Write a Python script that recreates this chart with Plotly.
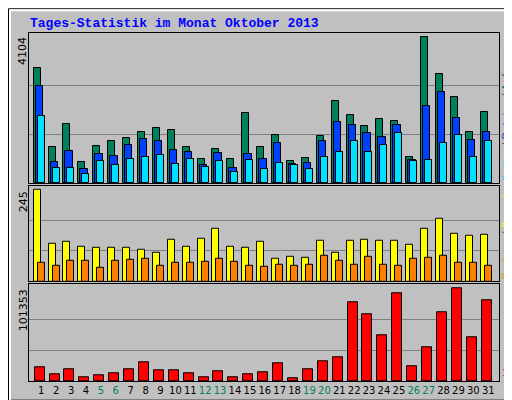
import plotly.graph_objects as go
from plotly.subplots import make_subplots

days = list(range(1, 32))
weekend = [5, 6, 12, 13, 19, 20, 26, 27]

anfragen = [3240, 1012, 1653, 594, 1040, 1179, 1263, 1430, 1541, 1486, 1012, 678, 956, 678, 1959, 1012,
            1346, 622, 706, 1318, 2321, 1903, 1597, 1792, 1736, 733, 4104, 3073, 2433, 1430, 1987]
dateien = [2739, 594, 901, 399, 817, 761, 1068, 1235, 1179, 928, 873, 511, 845, 427, 817, 678,
           1123, 539, 566, 1179, 1708, 1625, 1402, 1291, 1625, 650, 2182, 2572, 1820, 1207, 1430]
seiten = [1876, 427, 427, 260, 622, 511, 678, 733, 789, 539, 678, 455, 622, 316, 650, 399,
          566, 511, 399, 733, 873, 1179, 873, 1068, 1402, 622, 650, 1123, 1346, 733, 1179]
besuche = [245, 101, 107, 93, 91, 91, 91, 85, 77, 112, 93, 115, 141, 93, 91, 107,
           61, 67, 64, 109, 77, 109, 112, 109, 109, 99, 141, 168, 128, 122, 125]
rechner = [51, 43, 56, 56, 37, 56, 59, 61, 43, 51, 51, 53, 61, 53, 43, 40,
           45, 43, 45, 69, 56, 45, 67, 45, 43, 61, 64, 69, 51, 51, 43]
kb = [14796, 7028, 12577, 3699, 5918, 8138, 12577, 20345, 11467, 11467, 8138, 3699, 10357, 3699, 7028, 9248,
      19235, 2589, 12577, 21455, 25893, 85818, 72502, 50307, 95805, 15906, 36990, 74721, 101353, 48088, 88037]

GREEN, BLUE, CYAN = "#00805C", "#0040FF", "#00E0FF"
YELLOW, ORANGE, RED = "#FFFF00", "#FF8000", "#FF0000"

fig = make_subplots(rows=3, cols=1, vertical_spacing=0.0)

def bars(vals, off, width, color, row):
    fig.add_trace(go.Bar(x=[d + off for d in days], y=vals, width=width,
                         marker=dict(color=color, line=dict(color="black", width=1)),
                         showlegend=False), row=row, col=1)

bars(anfragen, -0.28, 0.47, GREEN, 1)
bars(dateien, -0.13, 0.5, BLUE, 1)
bars(seiten, -0.01, 0.47, CYAN, 1)
bars(besuche, -0.28, 0.47, YELLOW, 2)
bars(rechner, -0.01, 0.47, ORANGE, 2)
bars(kb, -0.11, 0.67, RED, 3)

maxes = [max(anfragen), max(besuche), max(kb)]
tops = [4225, 256, 105792]
domains = [[0.569, 1.0], [0.286, 0.561], [0.0, 0.278]]
for i in range(3):
    m = maxes[i]
    fig.update_yaxes(range=[0, tops[i]], domain=domains[i], tickvals=[m / 3, 2 * m / 3],
                     showticklabels=False, gridcolor="#808080", gridwidth=1, zeroline=False,
                     showline=True, linecolor="black", mirror=True, row=i + 1, col=1)
    fig.update_xaxes(range=[0.175, 31.72], showgrid=False, showline=True, linecolor="black",
                     mirror=True, ticks="", row=i + 1, col=1,
                     showticklabels=(i == 2))

ticktext = [f"<span style='color:#00805C'>{d}</span>" if d in weekend else str(d) for d in days]
fig.update_xaxes(tickvals=days, ticktext=ticktext, tickangle=0,
                 tickfont=dict(family="DejaVu Sans", size=10, color="black"),
                 row=3, col=1)

def py(p):
    return (378 - p) / 353

def px_(p):
    return (p - 21) / 470

ann = [
    dict(text="Tages-Statistik im Monat Oktober 2013", x=px_(20), y=py(15), xanchor="left", yanchor="middle",
         font=dict(family="Liberation Mono", size=13, color="#0000FF", weight="bold")),
    dict(text=str(max(anfragen)), x=px_(15), y=py(27), xanchor="center", yanchor="top", textangle=-90,
         font=dict(family="DejaVu Sans", size=11, color="black")),
    dict(text=str(max(besuche)), x=px_(15), y=py(184), xanchor="center", yanchor="top", textangle=-90,
         font=dict(family="DejaVu Sans", size=11, color="black")),
    dict(text=str(max(kb)), x=px_(15), y=py(283), xanchor="center", yanchor="top", textangle=-90,
         font=dict(family="DejaVu Sans", size=11, color="black")),
    dict(text=f"<span style='color:{CYAN}'>Seiten</span> / <span style='color:{BLUE}'>Dateien</span>"
              f" / <span style='color:{GREEN}'>Anfragen</span>",
         x=px_(499), y=py(177), xanchor="center", yanchor="bottom", textangle=-90,
         font=dict(family="DejaVu Sans", size=10, color="#404040")),
    dict(text=f"<span style='color:{ORANGE}'>Rechner</span> / <span style='color:{YELLOW}'>Besuche</span>",
         x=px_(499), y=py(277), xanchor="center", yanchor="bottom", textangle=-90,
         font=dict(family="DejaVu Sans", size=10, color="#404040")),
    dict(text="kb", x=px_(499), y=py(376), xanchor="center", yanchor="bottom", textangle=-90,
         font=dict(family="DejaVu Sans", size=10, color=RED)),
]
for a in ann:
    a.update(xref="paper", yref="paper", showarrow=False)

shapes = [
    dict(type="rect", x0=px_(0.5), x1=px_(511.5), y0=py(399.5), y1=py(0.5), line=dict(color="black", width=1)),
    dict(type="rect", x0=px_(2), x1=px_(509), y0=py(397), y1=py(2), line=dict(color="white", width=2)),
    dict(type="line", x0=px_(3), x1=px_(510), y0=py(397.5), y1=py(397.5), line=dict(color="#808080", width=3)),
    dict(type="line", x0=px_(509.5), x1=px_(509.5), y0=py(397), y1=py(3), line=dict(color="#808080", width=3)),
]
for s in shapes:
    s.update(xref="paper", yref="paper", layer="above")

fig.update_layout(width=512, height=400, margin=dict(l=21, r=21, t=25, b=22),
                  paper_bgcolor="#C0C0C0", plot_bgcolor="#C0C0C0", barmode="overlay",
                  bargap=0, annotations=ann, shapes=shapes)
fig.write_html("out.html")
